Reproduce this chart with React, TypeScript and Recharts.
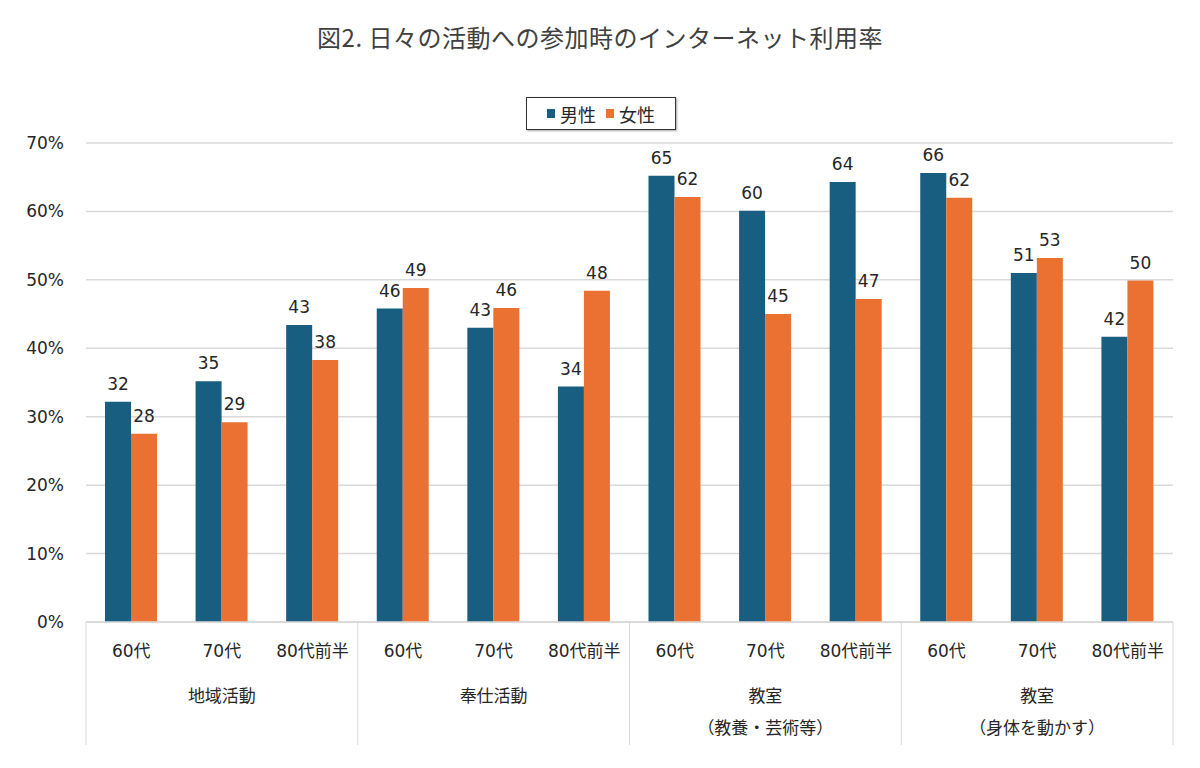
import { Bar, BarChart, CartesianGrid, LabelList, XAxis, YAxis } from 'recharts';

const ageLabels = ['60代', '70代', '80代前半', '60代', '70代', '80代前半', '60代', '70代', '80代前半', '60代', '70代', '80代前半'];
const groupLabels = [['地域活動'], ['奉仕活動'], ['教室', '（教養・芸術等）'], ['教室', '（身体を動かす）']];
const maleValues = [32.2, 35.2, 43.4, 45.8, 43.0, 34.4, 65.2, 60.1, 64.3, 65.6, 51.0, 41.7];
const femaleValues = [27.5, 29.2, 38.3, 48.8, 45.9, 48.4, 62.1, 45.0, 47.2, 62.0, 53.2, 49.9];
const yTicks = [0, 10, 20, 30, 40, 50, 60, 70];

const data = ageLabels.map((age, i) => ({
  key: `c${i}`,
  age,
  male: maleValues[i],
  female: femaleValues[i],
}));

const COLORS = {
  male: '#185e80',
  female: '#ea7132',
  grid: '#d9d9d9',
  text: '#262626',
  title: '#404040',
};

const FONT = "'DejaVu Sans', 'Noto Sans CJK JP', sans-serif";
const WIDTH = 1200;
const HEIGHT = 768;
const X_AXIS_HEIGHT = 146;
const MARGIN = { top: 143, right: 27, bottom: 0, left: 26 };
const Y_AXIS_WIDTH = 60;
const PLOT_LEFT = MARGIN.left + Y_AXIS_WIDTH;
const PLOT_WIDTH = WIDTH - MARGIN.right - PLOT_LEFT;
const BAND = PLOT_WIDTH / ageLabels.length;
const SEPARATOR_BOTTOM = 745;

// two-level axis: age under each category, group name under the middle one
function CategoryTick(props: any) {
  const { x, y, index } = props;
  const lineLen = SEPARATOR_BOTTOM - y;
  const group = groupLabels[Math.floor(index / 3)];
  return (
    <g>
      <text x={x} y={y + 35} textAnchor="middle" fill={COLORS.text} fontSize={17} fontFamily={FONT}>
        {ageLabels[index]}
      </text>
      {index % 3 === 0 && (
        <line x1={x - BAND / 2} x2={x - BAND / 2} y1={y} y2={y + lineLen} stroke={COLORS.grid} />
      )}
      {index === ageLabels.length - 1 && (
        <line x1={x + BAND / 2} x2={x + BAND / 2} y1={y} y2={y + lineLen} stroke={COLORS.grid} />
      )}
      {index % 3 === 1 &&
        group.map((line, j) => (
          <text
            key={line}
            x={x}
            y={y + 80 + j * 32}
            textAnchor="middle"
            fill={COLORS.text}
            fontSize={17}
            fontFamily={FONT}
          >
            {line}
          </text>
        ))}
    </g>
  );
}

function LegendBox() {
  const item = (color: string, label: string) => (
    <span style={{ display: 'inline-flex', alignItems: 'center', marginRight: 10 }}>
      <span style={{ width: 8, height: 9, background: color, display: 'inline-block', marginRight: 5 }} />
      {label}
    </span>
  );
  return (
    <div
      style={{
        position: 'absolute',
        left: 526,
        top: 97,
        width: 150,
        height: 33,
        boxSizing: 'border-box',
        border: '1px solid #333',
        boxShadow: '1px 1px 2px rgba(0,0,0,0.35)',
        background: '#fff',
        display: 'flex',
        alignItems: 'center',
        justifyContent: 'center',
        paddingLeft: 10,
        fontFamily: FONT,
        fontSize: 18,
        color: COLORS.text,
      }}
    >
      {item(COLORS.male, '男性')}
      {item(COLORS.female, '女性')}
    </div>
  );
}

export default function App() {
  return (
    <div style={{ position: 'absolute', left: 0, top: 0, width: WIDTH, height: HEIGHT, background: '#fff' }}>
      <div
        style={{
          position: 'absolute',
          left: 0,
          top: 20,
          width: WIDTH,
          textAlign: 'center',
          fontFamily: "'Noto Sans CJK JP', sans-serif",
          fontSize: 24,
          color: COLORS.title,
          lineHeight: '34px',
          letterSpacing: 0.5,
        }}
      >
        図2. 日々の活動への参加時のインターネット利用率
      </div>
      <BarChart
        width={WIDTH}
        height={HEIGHT}
        data={data}
        margin={MARGIN}
        barCategoryGap={19}
        barGap={0}
      >
        <CartesianGrid stroke={COLORS.grid} vertical={false} strokeWidth={1.5} />
        <XAxis
          dataKey="key"
          tickLine={false}
          tickSize={0}
          tickMargin={0}
          axisLine={{ stroke: COLORS.grid, strokeWidth: 1.5 }}
          height={X_AXIS_HEIGHT}
          interval={0}
          tick={(p: any) => <CategoryTick {...p} />}
        />
        <YAxis
          width={Y_AXIS_WIDTH}
          domain={[0, 70]}
          ticks={yTicks}
          axisLine={false}
          tickLine={false}
          tickSize={0}
          tickMargin={22}
          tickFormatter={(v: number) => `${v}%`}
          tick={{ fill: COLORS.text, fontSize: 17, fontFamily: FONT }}
        />
        <Bar dataKey="male" fill={COLORS.male} isAnimationActive={false}>
          <LabelList
            dataKey="male"
            position="top"
            offset={12}
            formatter={(v: any) => Math.round(Number(v))}
            style={{ fill: COLORS.text, fontSize: 17, fontFamily: FONT }}
          />
        </Bar>
        <Bar dataKey="female" fill={COLORS.female} isAnimationActive={false}>
          <LabelList
            dataKey="female"
            position="top"
            offset={12}
            formatter={(v: any) => Math.round(Number(v))}
            style={{ fill: COLORS.text, fontSize: 17, fontFamily: FONT }}
          />
        </Bar>
      </BarChart>
      <LegendBox />
    </div>
  );
}
